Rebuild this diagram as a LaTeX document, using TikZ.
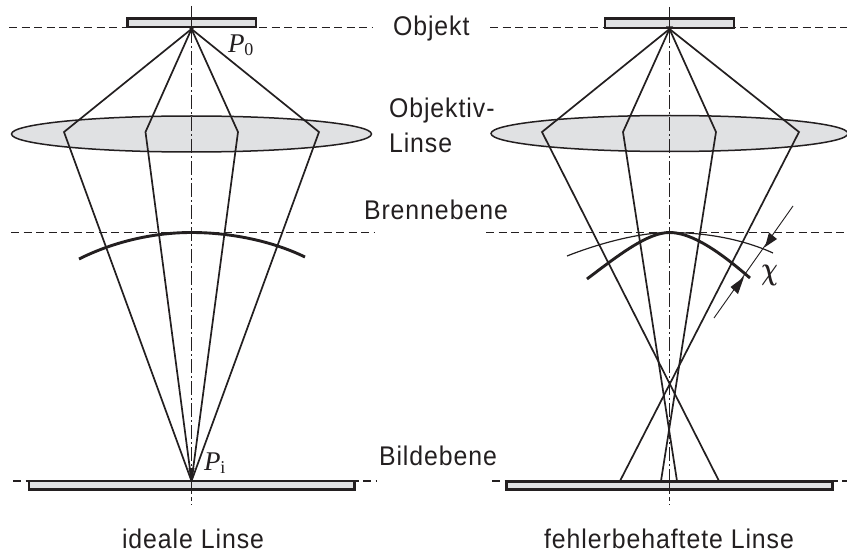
\documentclass[tikz,border=0pt]{standalone}
\usepackage{fontspec}
\setmainfont{Liberation Sans}
\newfontfamily\labelfont[FakeStretch=0.92,LetterSpace=3.5]{Liberation Sans}
\newfontfamily\symfont{Liberation Serif}
\usetikzlibrary{arrows.meta}
\definecolor{ink}{HTML}{231F20}
\definecolor{lensgray}{HTML}{E0E1E3}
\AtBeginDocument{\boldmath}
\tikzset{
  ray/.style={draw=ink,line width=1.7pt,line join=miter},
  plane/.style={draw=ink,line width=1.2pt,dash pattern=on 8pt off 4.5pt},
  axisline/.style={draw=ink,line width=1.3pt,dash pattern=on 14pt off 3pt on 2pt off 3pt},
  axissolid/.style={draw=ink,line width=1.3pt},
  plate/.style={draw=ink,fill=lensgray,line width=2.2pt},
  lens/.style={draw=ink,fill=lensgray,line width=1.5pt},
  thickcurve/.style={draw=ink,line width=2.9pt},
  thincurve/.style={draw=ink,line width=1.2pt},
  dimline/.style={draw=ink,line width=0.9pt},
  lbl/.style={inner sep=0pt,outer sep=0pt,text=ink,font=\labelfont\fontsize{27}{27}\selectfont},
  sym/.style={inner sep=0pt,outer sep=0pt,text=ink,font=\symfont\fontsize{27}{27}\selectfont}
}
\begin{document}
\begin{tikzpicture}[x=1pt,y=-1pt]
\useasboundingbox[fill=white] (0,0) rectangle (847,559);
% ---------- left: ideal lens
\coordinate (pl0) at (191.5,29);
\coordinate (pli) at (191.5,481);
\coordinate (la) at (64,132);
\coordinate (lb) at (145.5,132);
\coordinate (lc) at (238,132);
\coordinate (ld) at (319,132);
\coordinate (ltop) at (191.5,6);
\coordinate (lbot) at (191.5,505);
\draw[plane] (9,27.5) -- (373,27.5);
\draw[plane] (11,232.5) -- (374,232.5);
\draw[plane] (13,481) -- (376,481);
\draw[plate] (127.5,18.5) rectangle (256,27);
\draw[plate] (29,481) rectangle (354.5,489.5);
\draw[lens] (191.5,134) ellipse [x radius=180,y radius=18];
\draw[axissolid] (ltop) -- (pl0);
\draw[axisline] (pl0) -- (pli);
\draw[axissolid] (pli) -- (191.5,490);
\draw[axisline,dash pattern=on 4pt off 3pt] (191.5,490) -- (lbot);
\draw[thickcurve] (79,259) .. controls (115,241) and (155,232.5) .. (191.5,232.5)
  .. controls (228,232.5) and (270,240) .. (305,257);
\foreach \p in {la,lb,lc,ld}{ \draw[ray] (pl0) -- (\p) -- (pli); }
\fill[ink] (191.5,31) -- (188,26.5) -- (195,26.5) -- cycle;
\fill[ink] (191.5,481) -- (188.5,468) -- (194.5,468) -- cycle;
\node[sym,anchor=base west] (p0lab) at (228,53) {\textit{P}\raisebox{-3pt}{\fontsize{18}{18}\selectfont 0}};
\node[sym,anchor=base west] (pilab) at (204,470) {\textit{P}\raisebox{-3pt}{\fontsize{18}{18}\selectfont i}};
% ---------- right: lens with aberration
\coordinate (pr0) at (669.5,29);
\coordinate (ra) at (542,132);
\coordinate (rb) at (623,132);
\coordinate (rc) at (716,132);
\coordinate (rd) at (799,132);
\coordinate (ea) at (719,481);
\coordinate (eb) at (677,481);
\coordinate (ec) at (661,481);
\coordinate (ed) at (620,481);
\coordinate (rtop) at (669.5,7);
\coordinate (rbot) at (669.5,505);
\coordinate (rpl) at (669.5,481);
\draw[plane] (490,27.5) -- (847,27.5);
\draw[plane] (486,232.5) -- (847,232.5);
\draw[plane] (492,481) -- (847,481);
\draw[plate,line width=2.6pt] (605,18.5) rectangle (734,28);
\draw[plate,line width=2.6pt] (506.5,481.5) rectangle (832.5,489.5);
\draw[lens] (669.5,133.5) ellipse [x radius=178.5,y radius=18];
\draw[axissolid] (rtop) -- (pr0);
\draw[axisline] (pr0) -- (rpl);
\draw[axissolid] (rpl) -- (669.5,490);
\draw[axisline,dash pattern=on 4pt off 3pt] (669.5,490) -- (rbot);
\draw[thincurve] (567,256) .. controls (600,243) and (640,232.5) .. (669.5,232.5)
  .. controls (702,232.5) and (740,238) .. (773,253);
\draw[thickcurve] (587,279) .. controls (620,254) and (648,232.5) .. (669.5,232.5)
  .. controls (692,232.5) and (720,252) .. (750,278);
\draw[ray] (pr0) -- (ra) -- (ea);
\draw[ray] (pr0) -- (rb) -- (eb);
\draw[ray] (pr0) -- (rc) -- (ec);
\draw[ray] (pr0) -- (rd) -- (ed);
\fill[ink] (669.5,31) -- (666,26.5) -- (673,26.5) -- cycle;
\coordinate (dimtop) at (793,206);
\coordinate (dimbot) at (714,318);
\coordinate (tipa) at (765,247);
\coordinate (tipb) at (744,277);
\draw[dimline] (dimtop) -- (dimbot);
\fill[ink] (tipa) -- (769,232.5) -- (777,239) -- cycle;
\fill[ink] (tipb) -- (730.5,287) -- (738,294) -- cycle;
\node[inner sep=0pt,text=ink,font=\fontsize{44}{44}\selectfont,xscale=0.92,yscale=1.3,transform shape] (chi) at (769.5,275) {$\chi$};
% ---------- labels
\node[lbl,anchor=base west] (objekt) at (393,36) {Objekt};
\node[lbl,anchor=base west] (objektiv) at (389,118) {Objektiv-};
\node[lbl,anchor=base west] (linse) at (389,153) {Linse};
\node[lbl,anchor=base west] (brenn) at (364,220) {Brennebene};
\node[lbl,anchor=base west] (bild) at (379,465) {Bildebene};
\node[lbl,anchor=base west] (ideal) at (122,548) {ideale Linse};
\node[lbl,anchor=base west] (fehler) at (544,548) {fehlerbehaftete Linse};
\end{tikzpicture}
\end{document}
